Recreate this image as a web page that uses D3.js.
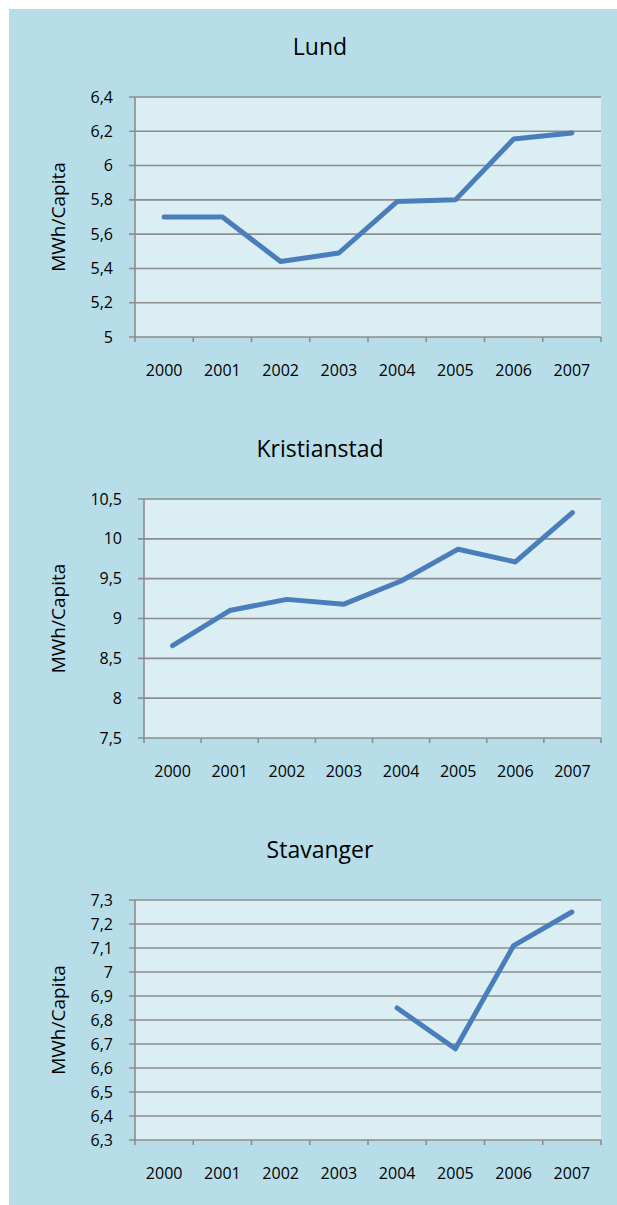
<!DOCTYPE html>
<html>
<head>
<meta charset="utf-8">
<script src="https://cdn.jsdelivr.net/npm/d3@7"></script>
<style>
  html, body { margin: 0; padding: 0; background: #fff; }
  svg { display: block; font-family: 'Open Sans', sans-serif; }
  .tick text { fill: #000; }
</style>
</head>
<body>
<svg id="chart" width="617" height="1205"></svg>
<script>
// data
const years = ['2000', '2001', '2002', '2003', '2004', '2005', '2006', '2007'];
const lundValues = [5.70, 5.70, 5.44, 5.49, 5.79, 5.80, 6.155, 6.19];
const kristianstadValues = [8.66, 9.10, 9.24, 9.18, 9.47, 9.87, 9.71, 10.33];
const stavangerValues = [null, null, null, null, 6.85, 6.68, 7.11, 7.25];

const lundTicks = [5, 5.2, 5.4, 5.6, 5.8, 6, 6.2, 6.4];
const kristianstadTicks = [7.5, 8, 8.5, 9, 9.5, 10, 10.5];
const stavangerTicks = [6.3, 6.4, 6.5, 6.6, 6.7, 6.8, 6.9, 7, 7.1, 7.2, 7.3];

const yLabel = 'MWh/Capita';

const fmt = d3.formatLocale({ decimal: ',', thousands: ' ', grouping: [3], currency: ['', ''] })
  .format('.1~f');

const svg = d3.select('#chart');

// outer panel
svg.append('rect')
  .attr('x', 9).attr('y', 9)
  .attr('width', 617 - 9).attr('height', 1205 - 9)
  .attr('fill', '#B7DEE8');

const charts = [
  { title: 'Lund', values: lundValues, ticks: lundTicks, left: 135, top: 97, height: 240 },
  { title: 'Kristianstad', values: kristianstadValues, ticks: kristianstadTicks, left: 144, top: 499, height: 239 },
  { title: 'Stavanger', values: stavangerValues, ticks: stavangerTicks, left: 135, top: 900, height: 240 },
];

const right = 601;
const gridColor = '#8C8C8C';

charts.forEach(function(c) {
  const g = svg.append('g');
  const bottom = c.top + c.height;

  const x = d3.scaleBand()
    .domain(years)
    .range([c.left, right])
    .padding(0);

  const y = d3.scaleLinear()
    .domain(d3.extent(c.ticks))
    .range([bottom, c.top]);

  // plot area
  g.append('rect')
    .attr('x', c.left).attr('y', c.top)
    .attr('width', right - c.left).attr('height', c.height)
    .attr('fill', '#DAEEF3');

  // gridlines (with the small tick stub to the left)
  g.selectAll('.grid')
    .data(c.ticks)
    .enter().append('line')
    .attr('class', 'grid')
    .attr('x1', c.left - 6).attr('x2', right)
    .attr('y1', d => y(d)).attr('y2', d => y(d))
    .attr('stroke', gridColor)
    .attr('stroke-width', 1.6);

  // y axis labels
  const yAxis = d3.axisLeft(y)
    .tickValues(c.ticks)
    .tickSize(0)
    .tickPadding(22)
    .tickFormat(fmt);

  g.append('g')
    .attr('transform', `translate(${c.left},0)`)
    .call(yAxis)
    .call(s => s.select('.domain').remove())
    .selectAll('text')
    .attr('font-size', 16)
    .attr('font-family', 'Open Sans');

  // vertical axis line
  g.append('line')
    .attr('x1', c.left).attr('x2', c.left)
    .attr('y1', c.top).attr('y2', bottom + 5)
    .attr('stroke', gridColor)
    .attr('stroke-width', 1.6);

  // category boundary ticks
  const bounds = years.map(d => x(d) + x.bandwidth()).concat([]);
  g.selectAll('.xtick')
    .data(bounds)
    .enter().append('line')
    .attr('class', 'xtick')
    .attr('x1', d => d).attr('x2', d => d)
    .attr('y1', bottom).attr('y2', bottom + 5)
    .attr('stroke', gridColor)
    .attr('stroke-width', 1.6);

  // x labels
  const xAxis = d3.axisBottom(x)
    .tickSize(0)
    .tickPadding(28);

  g.append('g')
    .attr('transform', `translate(0,${bottom})`)
    .call(xAxis)
    .call(s => s.select('.domain').remove())
    .selectAll('text')
    .attr('font-size', 16)
    .attr('font-family', 'Open Sans');

  // series line
  const line = d3.line()
    .defined(d => d != null)
    .x((d, i) => x(years[i]) + x.bandwidth() / 2)
    .y(d => y(d));

  g.append('path')
    .datum(c.values)
    .attr('d', line)
    .attr('fill', 'none')
    .attr('stroke', '#4A7EBB')
    .attr('stroke-width', 5)
    .attr('stroke-linecap', 'round')
    .attr('stroke-linejoin', 'round');

  // title
  g.append('text')
    .attr('x', 320)
    .attr('y', c.top - 42)
    .attr('text-anchor', 'middle')
    .attr('font-size', 23)
    .attr('fill', '#000')
    .text(c.title);

  // y axis title
  g.append('text')
    .attr('transform', `translate(65,${c.top + c.height / 2}) rotate(-90)`)
    .attr('text-anchor', 'middle')
    .attr('font-size', 19)
    .attr('fill', '#000')
    .text(yLabel);
});
</script>
</body>
</html>
